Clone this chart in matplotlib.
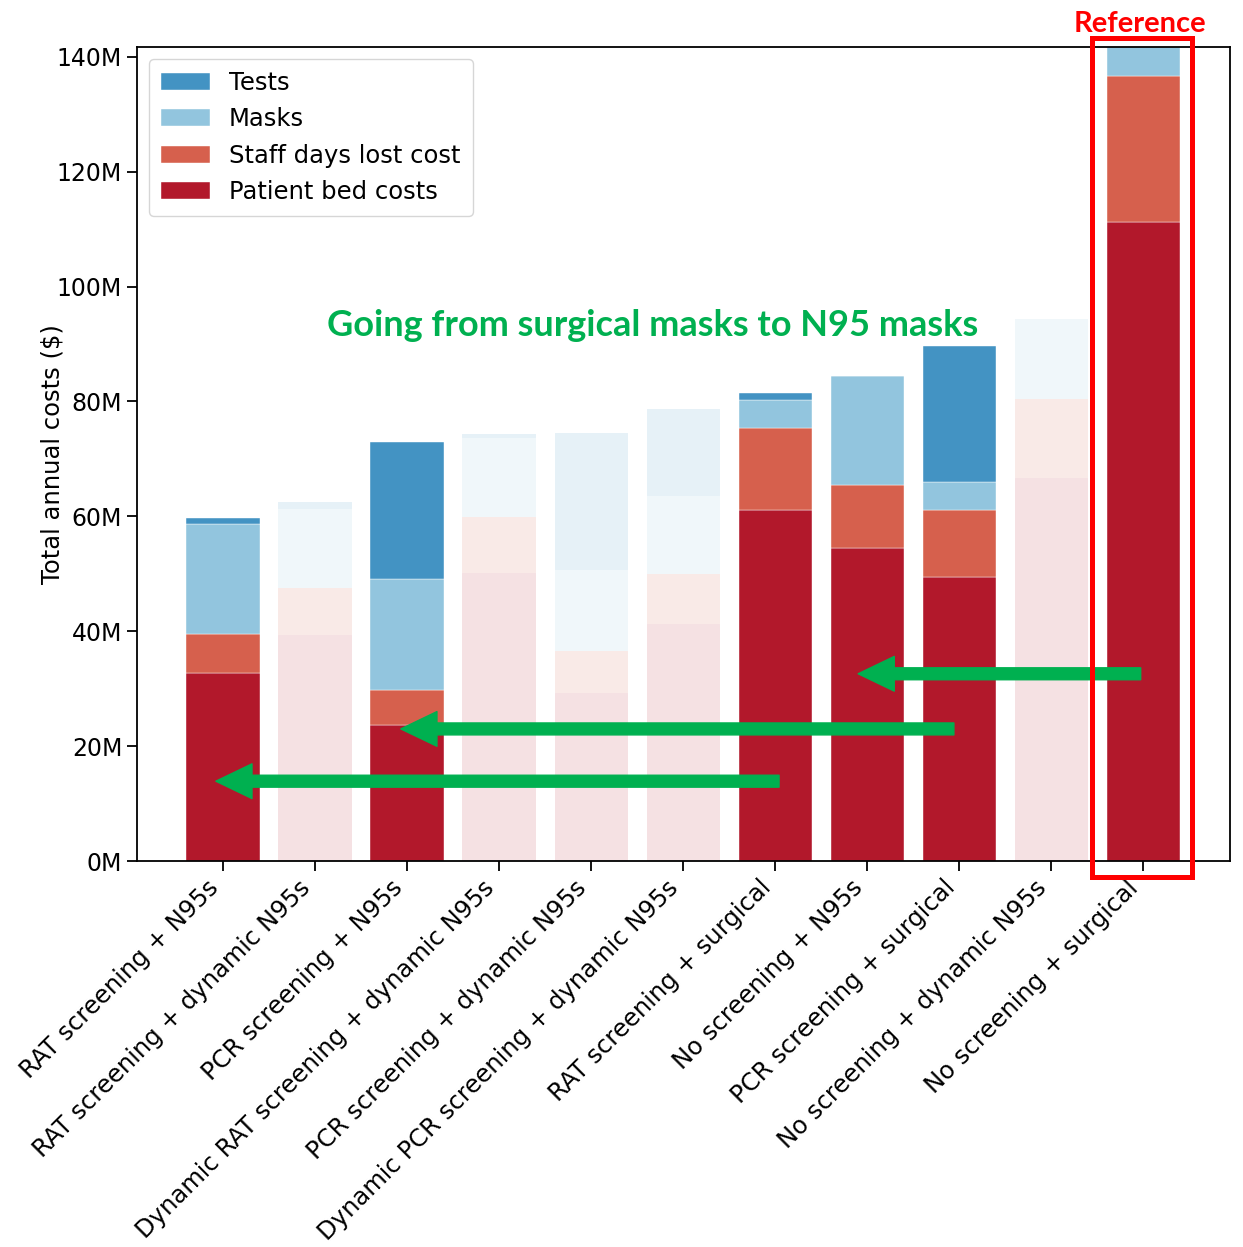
import matplotlib
matplotlib.use('Agg')
import numpy as np
from matplotlib import pyplot as plt
from matplotlib.patches import Rectangle

# Data (millions of $)
strategies = [
    'RAT screening + N95s',
    'RAT screening + dynamic N95s',
    'PCR screening + N95s',
    'Dynamic RAT screening + dynamic N95s',
    'PCR screening + dynamic N95s',
    'Dynamic PCR screening + dynamic N95s',
    'RAT screening + surgical',
    'No screening + N95s',
    'PCR screening + surgical',
    'No screening + dynamic N95s',
    'No screening + surgical',
]
bed_costs = [32.7, 39.4, 23.7, 50.1, 29.3, 41.3, 61.1, 54.5, 49.5, 66.7, 111.3]
staff_costs = [6.8, 8.1, 6.1, 9.8, 7.3, 8.7, 14.3, 11.0, 11.6, 13.7, 25.4]
mask_costs = [19.2, 13.8, 19.3, 13.7, 14.1, 13.6, 4.9, 19.0, 4.9, 14.0, 5.0]
test_costs = [1.0, 1.2, 23.9, 0.7, 23.8, 15.1, 1.2, 0.0, 23.7, 0.0, 0.0]
faded = [False, True, False, True, True, True, False, False, False, True, False]

# Colors (RdBu)
c_tests = '#4393C3'
c_masks = '#92C5DE'
c_staff = '#D6604D'
c_bed = '#B2182B'
green = '#00B050'

fig = plt.figure(figsize=(12.43, 12.47), dpi=100)
ax = fig.add_axes([0.110, 0.3095, 0.8795, 0.6528])

x = np.arange(len(strategies))
alphas = [0.13 if f else 1.0 for f in faded]

layers = [
    ('Patient bed costs', bed_costs, c_bed),
    ('Staff days lost cost', staff_costs, c_staff),
    ('Masks', mask_costs, c_masks),
    ('Tests', test_costs, c_tests),
]

bottom = np.zeros(len(strategies))
handles = {}
for name, vals, col in layers:
    vals = np.array(vals)
    for i in range(len(strategies)):
        b = ax.bar(x[i], vals[i], bottom=bottom[i], width=0.8, color=col,
                   alpha=alphas[i], edgecolor='white', linewidth=0.3)
        if not faded[i]:
            handles[name] = b
    bottom += vals

ax.set_ylim(0, 141.7)
ax.set_xlim(-0.94, 10.94)
ax.set_yticks(range(0, 141, 20))
ax.set_yticklabels([f'{v}M' for v in range(0, 141, 20)], fontsize=17)
ax.set_xticks(x)
ax.set_xticklabels(strategies, rotation=45, ha='right', fontsize=17.5)
ax.tick_params(axis='both', length=7, width=1.3)
ax.set_ylabel('Total annual costs ($)', fontsize=17.5)
ax.yaxis.set_label_coords(-0.066, 0.5)
for s in ax.spines.values():
    s.set_linewidth(1.3)

order = ['Tests', 'Masks', 'Staff days lost cost', 'Patient bed costs']
ax.legend([handles[n] for n in order], order, loc='upper left',
          fontsize=17.5, handlelength=2.0, borderpad=0.5, labelspacing=0.5,
          borderaxespad=0.5)

# Annotations
fig.text(0.525, 0.739, 'Going from surgical masks to N95 masks',
         color=green, fontsize=26, fontweight='bold', family='Lato',
         ha='center', va='center')

arrows = [
    ((9.97, 32.6), (6.9, 32.6)),
    ((7.94, 23.0), (1.93, 23.0)),
    ((6.04, 13.9), (-0.08, 13.9)),
]
for tail, tip in arrows:
    ax.annotate('', xy=tip, xytext=tail,
                arrowprops=dict(arrowstyle='simple,head_width=1.25,head_length=1.3,tail_width=0.43',
                                color=green, shrinkA=0, shrinkB=0, mutation_scale=20))

fig.add_artist(Rectangle((0.8785, 0.2967), 0.0805, 0.6728, transform=fig.transFigure,
                         fill=False, edgecolor='red', linewidth=3.6))
fig.text(0.917, 0.981, 'Reference', color='red', fontsize=21, fontweight='bold',
         family='Lato', ha='center', va='center')

fig.savefig('out.png', dpi=100)
